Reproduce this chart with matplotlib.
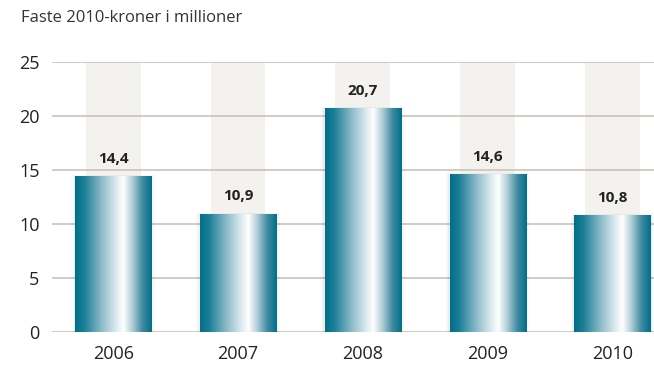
import numpy as np
import matplotlib
matplotlib.use('Agg')
import matplotlib.pyplot as plt
from matplotlib.colors import LinearSegmentedColormap
from matplotlib.patches import Rectangle

years = ["2006", "2007", "2008", "2009", "2010"]
values = [14.4, 10.9, 20.7, 14.6, 10.8]
value_labels = ["14,4", "10,9", "20,7", "14,6", "10,8"]
yticks = [0, 5, 10, 15, 20, 25]

plt.rcParams['font.family'] = ['Open Sans', 'DejaVu Sans']

# metallic teal gradient across each bar
metal = LinearSegmentedColormap.from_list("metal", [
    (0.00, "#006f88"),
    (0.12, "#1c7f97"),
    (0.35, "#8fbccb"),
    (0.55, "#e2eef2"),
    (0.63, "#ffffff"),
    (0.74, "#b4d0da"),
    (0.88, "#3e8aa1"),
    (1.00, "#006f88"),
])
grad = np.linspace(0, 1, 256).reshape(1, -1)

fig = plt.figure(figsize=(6.54, 3.70), dpi=100)
ax = fig.add_axes([0.0795, 0.1027, 0.92, 0.7297])

x = np.arange(len(years))
bar_w = 0.61
band_w = 0.44

ax.set_xlim(-0.49, 4.33)
ax.set_ylim(0, 25)

# light background columns behind the bars
for xi in x:
    ax.add_patch(Rectangle((xi - band_w / 2, 0), band_w, 25, facecolor="#f4f2ef",
                           edgecolor="none", zorder=0))

for yv in yticks:
    ax.axhline(yv, color="#cbc3b9", linewidth=1.2, zorder=1)

for xi, v, lab in zip(x, values, value_labels):
    # faint shadow along the sides
    for k, a in enumerate([0.035, 0.025, 0.015]):
        d = 0.01 * (k + 1)
        ax.add_patch(Rectangle((xi - bar_w / 2 - d, 0), bar_w + 2 * d, v + 0.05 * (k + 1),
                               facecolor="#000000", alpha=a, edgecolor="none", zorder=2))
    rect = Rectangle((xi - bar_w / 2, 0), bar_w, v, facecolor="none", edgecolor="none", zorder=3)
    ax.add_patch(rect)
    im = ax.imshow(grad, cmap=metal, aspect="auto", zorder=3,
                   extent=(xi - bar_w / 2, xi + bar_w / 2, 0, v))
    im.set_clip_path(rect)
    ax.text(xi, v + 1.0, lab, ha="center", va="bottom", fontsize=11,
            fontweight="bold", color="#222222", zorder=4)

ax.set_xticks(x)
ax.set_xticklabels(years)
ax.set_yticks(yticks)
ax.tick_params(axis="both", length=0, labelsize=13, colors="#222222")
ax.tick_params(axis="x", pad=9)
ax.tick_params(axis="y", pad=9)
for s in ax.spines.values():
    s.set_visible(False)

fig.text(0.032, 0.952, "Faste 2010-kroner i millioner", fontsize=12,
         color="#333333", ha="left", va="center")

fig.savefig("out.png", dpi=100)
